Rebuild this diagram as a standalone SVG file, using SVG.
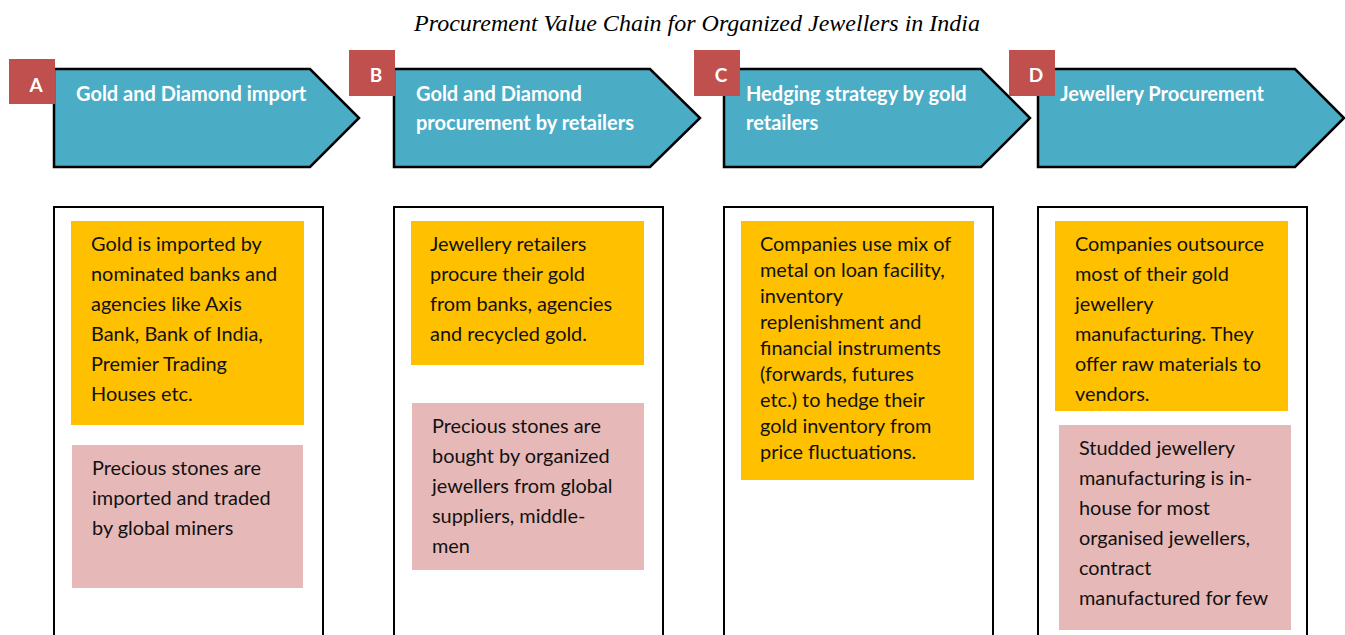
<svg xmlns="http://www.w3.org/2000/svg" width="1345" height="635" viewBox="0 0 1345 635">
<style>
.title{font-family:"Liberation Serif",serif;font-style:italic;font-size:24px;fill:#000}
.arrow{fill:#4BACC6;stroke:#000;stroke-width:2.5}
.badge{fill:#C0504D}
.blabel{font-family:Lato,"Open Sans",sans-serif;font-weight:bold;font-size:19px;fill:#fff}
.hlabel{font-family:Lato,"Open Sans",sans-serif;font-weight:bold;font-size:20px;fill:#fff}
.col{fill:#fff;stroke:#000;stroke-width:2}
.gold{fill:#FFC000}
.pink{fill:#E6B9B8}
.body{font-family:Lato,"Open Sans",sans-serif;font-size:19.9px;fill:#111}
</style>
<rect width="1345" height="635" fill="#fff"/>
<text class="title" x="697" y="31" text-anchor="middle">Procurement Value Chain for Organized Jewellers in India</text>

<g id="stepA">
<polygon class="arrow" points="54,69 310,69 359,118 310,167 54,167"/>
<rect class="badge" x="9" y="59" width="46" height="45"/>
<text class="blabel" x="36" y="92" text-anchor="middle">A</text>
<text class="hlabel" x="76" y="101">Gold and Diamond import</text>
</g>
<g id="stepB">
<polygon class="arrow" points="394,69 650,69 700,118 650,167 394,167"/>
<rect class="badge" x="349" y="50" width="46" height="46"/>
<text class="blabel" x="376" y="82" text-anchor="middle">B</text>
<text class="hlabel" x="416" y="101">Gold and Diamond</text>
<text class="hlabel" x="416" y="130">procurement by retailers</text>
</g>
<g id="stepC">
<polygon class="arrow" points="724,69 981,69 1030,118 981,167 724,167"/>
<rect class="badge" x="694" y="50" width="46" height="46"/>
<text class="blabel" x="721" y="82" text-anchor="middle">C</text>
<text class="hlabel" x="746" y="101">Hedging strategy by gold</text>
<text class="hlabel" x="746" y="130">retailers</text>
</g>
<g id="stepD">
<polygon class="arrow" points="1038,69 1295,69 1344,118 1295,167 1038,167"/>
<rect class="badge" x="1009" y="50" width="46" height="46"/>
<text class="blabel" x="1036" y="82" text-anchor="middle">D</text>
<text class="hlabel" x="1060" y="101">Jewellery Procurement</text>
</g>

<g id="colA">
<rect class="col" x="54" y="207" width="269" height="440"/>
<rect class="gold" x="71" y="221" width="233" height="204"/>
<text class="body"><tspan x="91" y="251">Gold is imported by</tspan><tspan x="91" y="281">nominated banks and</tspan><tspan x="91" y="311">agencies like Axis</tspan><tspan x="91" y="341">Bank, Bank of India,</tspan><tspan x="91" y="371">Premier Trading</tspan><tspan x="91" y="401">Houses etc.</tspan></text>
<rect class="pink" x="72" y="445" width="231" height="143"/>
<text class="body"><tspan x="92" y="475">Precious stones are</tspan><tspan x="92" y="505">imported and traded</tspan><tspan x="92" y="535">by global miners</tspan></text>
</g>

<g id="colB">
<rect class="col" x="394" y="207" width="269" height="440"/>
<rect class="gold" x="411" y="221" width="233" height="144"/>
<text class="body"><tspan x="430" y="251">Jewellery retailers</tspan><tspan x="430" y="281">procure their gold</tspan><tspan x="430" y="311">from banks, agencies</tspan><tspan x="430" y="341">and recycled gold.</tspan></text>
<rect class="pink" x="412" y="403" width="232" height="167"/>
<text class="body"><tspan x="432" y="433">Precious stones are</tspan><tspan x="432" y="463">bought by organized</tspan><tspan x="432" y="493">jewellers from global</tspan><tspan x="432" y="523">suppliers, middle-</tspan><tspan x="432" y="553">men</tspan></text>
</g>

<g id="colC">
<rect class="col" x="724" y="207" width="269" height="440"/>
<rect class="gold" x="741" y="221" width="233" height="259"/>
<text class="body"><tspan x="760" y="251">Companies use mix of</tspan><tspan x="760" y="277">metal on loan facility,</tspan><tspan x="760" y="303">inventory</tspan><tspan x="760" y="329">replenishment and</tspan><tspan x="760" y="355">financial instruments</tspan><tspan x="760" y="381">(forwards, futures</tspan><tspan x="760" y="407">etc.) to hedge their</tspan><tspan x="760" y="433">gold inventory from</tspan><tspan x="760" y="459">price fluctuations.</tspan></text>
</g>

<g id="colD">
<rect class="col" x="1038" y="207" width="269" height="440"/>
<rect class="gold" x="1055" y="221" width="233" height="190"/>
<text class="body"><tspan x="1075" y="251">Companies outsource</tspan><tspan x="1075" y="281">most of their gold</tspan><tspan x="1075" y="311">jewellery</tspan><tspan x="1075" y="341">manufacturing. They</tspan><tspan x="1075" y="371">offer raw materials to</tspan><tspan x="1075" y="401">vendors.</tspan></text>
<rect class="pink" x="1059" y="425" width="232" height="205"/>
<text class="body"><tspan x="1079" y="455">Studded jewellery</tspan><tspan x="1079" y="485">manufacturing is in-</tspan><tspan x="1079" y="515">house for most</tspan><tspan x="1079" y="545">organised jewellers,</tspan><tspan x="1079" y="575">contract</tspan><tspan x="1079" y="605">manufactured for few</tspan></text>
</g>
<g id="connectors"></g>
</svg>
